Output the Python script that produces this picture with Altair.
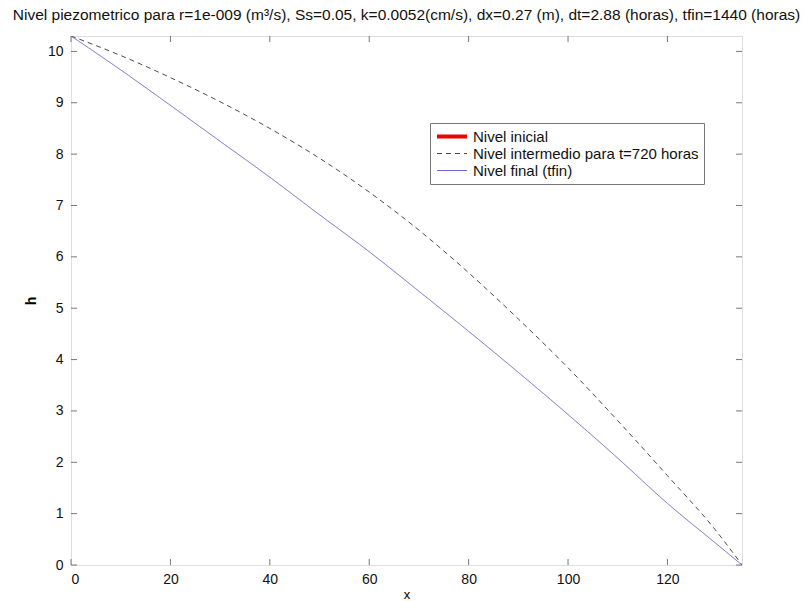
import altair as alt
import pandas as pd

# x positions (m) where the curves were read
x_pos = [0, 10, 20, 30, 40, 50, 60, 70, 80, 90, 100, 110, 120, 130, 135]
# intermediate level at t=720 h (dashed)
h_inter = [10.3, 9.92, 9.49, 9.02, 8.50, 7.92, 7.26, 6.52, 5.69, 4.79, 3.84, 2.81, 1.74, 0.64, 0.0]
# final level (tfin)
h_final = [10.3, 9.64, 8.95, 8.25, 7.55, 6.82, 6.10, 5.33, 4.55, 3.75, 2.93, 2.08, 1.20, 0.40, 0.0]

series_names = ["Nivel inicial", "Nivel intermedio para t=720 horas", "Nivel final (tfin)"]
series_colors = ["#ee0000", "#4a4a4a", "#6a6ad0"]
series_dash = [[1, 0], [5, 4], [1, 0]]
series_width = [4, 1, 1]

x_ticks = [0, 20, 40, 60, 80, 100, 120]
y_ticks = [0, 1, 2, 3, 4, 5, 6, 7, 8, 9, 10]

rows = []
for xv, hv in zip(x_pos, h_inter):
    rows.append({"x": xv, "h": hv, "serie": series_names[1]})
for xv, hv in zip(x_pos, h_final):
    rows.append({"x": xv, "h": hv, "serie": series_names[2]})
df = pd.DataFrame(rows)

W, H = 671, 529
FONT = "Liberation Sans"

xscale = alt.Scale(domain=[0, 135], nice=False, zero=False)
yscale = alt.Scale(domain=[0, 10.3], nice=False, zero=False)

leg_common = dict(title=None, orient="none", legendX=359, legendY=87)

lines = alt.Chart(df).mark_line(clip=True, interpolate="monotone").encode(
    x=alt.X("x:Q", scale=xscale,
            axis=alt.Axis(values=x_ticks, title="x", ticks=False, domain=False, grid=False,
                          labelFontSize=14, labelPadding=7, titleFontSize=13,
                          titlePadding=2, titleFontWeight="normal", labelColor="#111")),
    y=alt.Y("h:Q", scale=yscale,
            axis=alt.Axis(values=y_ticks, title="h", ticks=False, domain=False, grid=False,
                          labelFontSize=14, labelPadding=8, titleFontSize=14,
                          titlePadding=9, titleFontWeight="bold", labelColor="#111")),
    color=alt.Color("serie:N", scale=alt.Scale(domain=series_names, range=series_colors),
                    legend=alt.Legend(symbolType="stroke", symbolSize=900, clipHeight=17,
                                      labelFontSize=15, labelFont=FONT, padding=5,
                                      fillColor="white", strokeColor="#777",
                                      symbolStrokeWidth=1, labelLimit=400, rowPadding=0,
                                      labelColor="#111", **leg_common)),
    strokeDash=alt.StrokeDash("serie:N", scale=alt.Scale(domain=series_names, range=series_dash),
                              legend=alt.Legend(**leg_common)),
    strokeWidth=alt.StrokeWidth("serie:N",
                                scale=alt.Scale(type="ordinal", domain=series_names, range=series_width),
                                legend=alt.Legend(**leg_common)),
    order=alt.Order("x:Q"),
)

xt = pd.DataFrame({"t": x_ticks})
yt = pd.DataFrame({"t": y_ticks})
tick_color = "#777"
xt_bottom = alt.Chart(xt).mark_rule(color=tick_color).encode(
    x=alt.X("t:Q", scale=xscale), y=alt.value(H), y2=alt.value(H - 6))
xt_top = alt.Chart(xt).mark_rule(color=tick_color).encode(
    x=alt.X("t:Q", scale=xscale), y=alt.value(0), y2=alt.value(6))
yt_left = alt.Chart(yt).mark_rule(color=tick_color).encode(
    y=alt.Y("t:Q", scale=yscale), x=alt.value(0), x2=alt.value(6))
yt_right = alt.Chart(yt).mark_rule(color=tick_color).encode(
    y=alt.Y("t:Q", scale=yscale), x=alt.value(W), x2=alt.value(W - 6))

chart = alt.layer(xt_bottom, xt_top, yt_left, yt_right, lines).properties(
    width=W, height=H,
    title=alt.Title("Nivel piezometrico para r=1e-009 (m³/s), Ss=0.05, k=0.0052(cm/s), dx=0.27 (m), dt=2.88 (horas), tfin=1440 (horas)",
                    fontSize=15.5, font=FONT, fontWeight="normal", color="#111", offset=12, anchor="middle"),
    autosize=alt.AutoSizeParams(type="none"),
    padding={"left": 71, "top": 36, "right": 62, "bottom": 36},
).configure_view(stroke="#777", strokeWidth=1.2).configure_axis(
    labelFont=FONT, titleFont=FONT
).configure(background="white")

chart.save("out.html", embed_options={"renderer": "svg", "actions": False})
